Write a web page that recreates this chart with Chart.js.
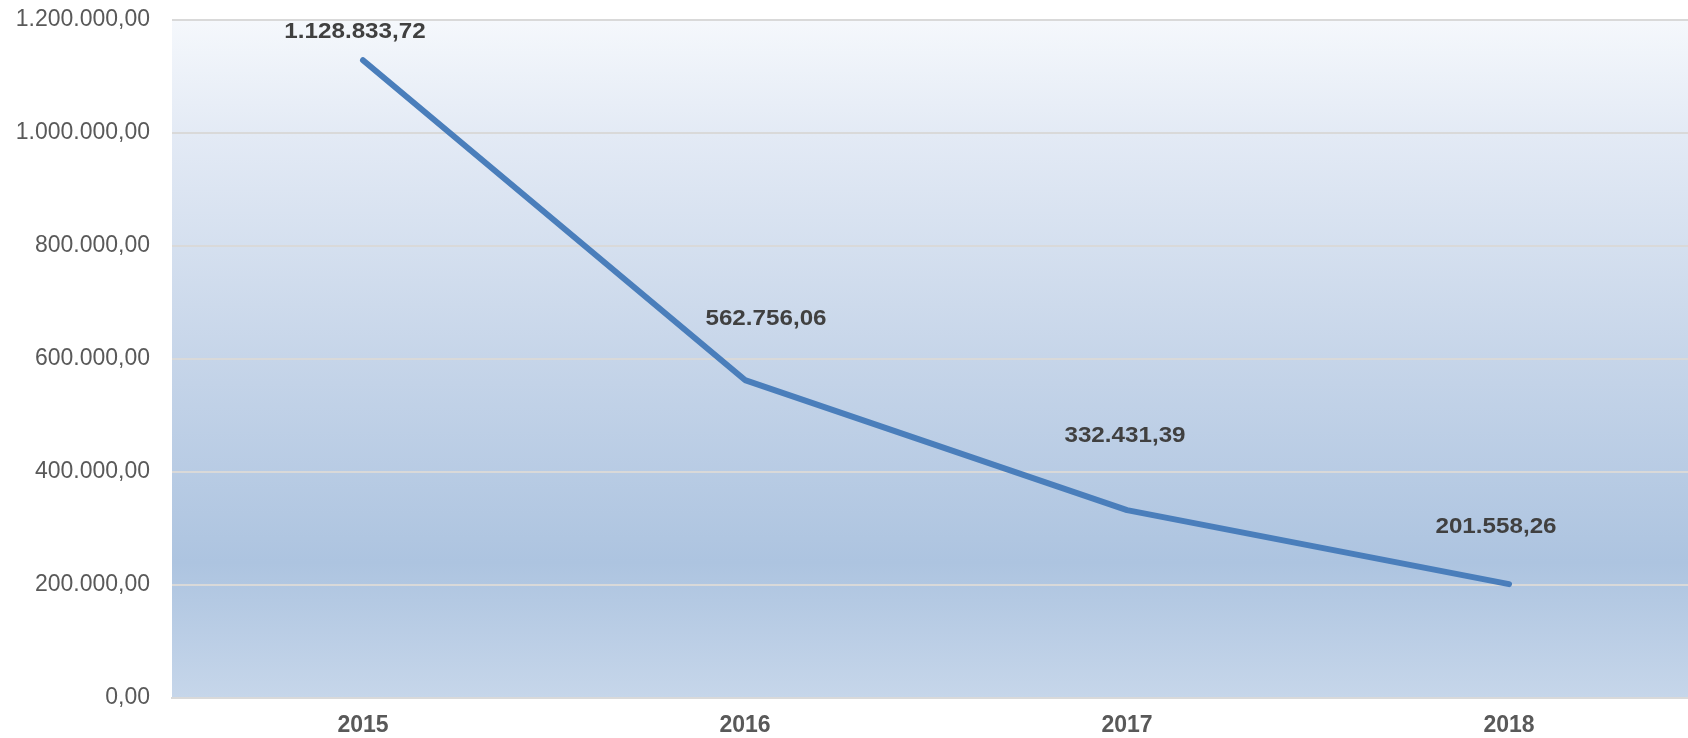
<!DOCTYPE html>
<html>
<head>
<meta charset="utf-8">
<script src="https://cdn.jsdelivr.net/npm/chart.js@4/dist/chart.umd.min.js"></script>
<style>
  html, body { margin: 0; padding: 0; background: #ffffff; overflow: hidden; }
  #wrap { width: 1700px; height: 738px; position: relative; }
</style>
</head>
<body>
<div id="wrap"><canvas id="c"></canvas></div>
<script>
const categories = ['2015', '2016', '2017', '2018'];
const values = [1128833.72, 562756.06, 332431.39, 201558.26];
const yTicks = [0, 200000, 400000, 600000, 800000, 1000000, 1200000];
// label offsets relative to each point (pixels)
const labelOffsets = [[-8, -28], [21, -61], [-2, -74], [-13, -57]];

function fmt(v) {
  const neg = v < 0;
  v = Math.abs(v);
  const fixed = v.toFixed(2);
  let [intPart, dec] = fixed.split('.');
  intPart = intPart.replace(/\B(?=(\d{3})+(?!\d))/g, '.');
  return (neg ? '-' : '') + intPart + ',' + dec;
}

const bgPlugin = {
  id: 'bgGradient',
  beforeDraw(chart) {
    const { ctx, chartArea: a } = chart;
    const g = ctx.createLinearGradient(0, a.top, 0, a.bottom);
    g.addColorStop(0, '#f5f8fc');
    g.addColorStop(0.17, '#e3eaf5');
    g.addColorStop(0.5, '#c6d5e9');
    g.addColorStop(0.8, '#adc4e0');
    g.addColorStop(1, '#c6d6ea');
    ctx.save();
    ctx.fillStyle = g;
    ctx.fillRect(a.left, a.top, a.right - a.left, a.bottom - a.top);
    ctx.restore();
  }
};

const labelPlugin = {
  id: 'pointLabels',
  afterDatasetsDraw(chart) {
    const { ctx } = chart;
    const meta = chart.getDatasetMeta(0);
    ctx.save();
    ctx.font = 'bold 22px "Liberation Sans", Arial, sans-serif';
    ctx.fillStyle = '#404040';
    ctx.textAlign = 'center';
    ctx.textBaseline = 'middle';
    meta.data.forEach((pt, i) => {
      const [dx, dy] = labelOffsets[i];
      ctx.save();
      ctx.translate(pt.x + dx, pt.y + dy);
      ctx.scale(1.1, 1);
      ctx.fillText(fmt(values[i]), 0, 0);
      ctx.restore();
    });
    ctx.restore();
  }
};

new Chart(document.getElementById('c'), {
  type: 'line',
  data: {
    labels: categories,
    datasets: [{
      data: values,
      borderColor: '#4a7ebb',
      borderWidth: 6,
      borderCapStyle: 'round',
      borderJoinStyle: 'round',
      pointRadius: 0,
      pointHoverRadius: 0,
      tension: 0,
      fill: false
    }]
  },
  options: {
    responsive: true,
    maintainAspectRatio: false,
    animation: false,
    layout: { padding: { top: 20, right: 0, bottom: 0, left: 0 } },
    plugins: { legend: { display: false }, tooltip: { enabled: false } },
    scales: {
      x: {
        offset: true,
        grid: { display: false, drawTicks: false },
        border: { display: true, color: '#d9d9d9', width: 2 },
        ticks: {
          color: '#595959',
          font: { family: '"Liberation Sans", Arial, sans-serif', size: 23, weight: 'bold' },
          padding: 14,
          maxRotation: 0
        },
        afterFit(s) { s.height = 40; s.paddingLeft = 0; s.paddingRight = 0; }
      },
      y: {
        min: 0,
        max: 1200000,
        afterBuildTicks(s) { s.ticks = yTicks.map(v => ({ value: v })); },
        grid: { color: '#d9d9d9', lineWidth: 2, drawTicks: false },
        border: { display: false },
        ticks: {
          color: '#595959',
          font: { family: '"Liberation Sans", Arial, sans-serif', size: 23 },
          padding: 22,
          callback: v => fmt(v)
        },
        afterFit(s) { s.width = 172; s.paddingTop = 0; s.paddingBottom = 0; }
      }
    }
  },
  plugins: [bgPlugin, labelPlugin]
});
</script>
</body>
</html>
